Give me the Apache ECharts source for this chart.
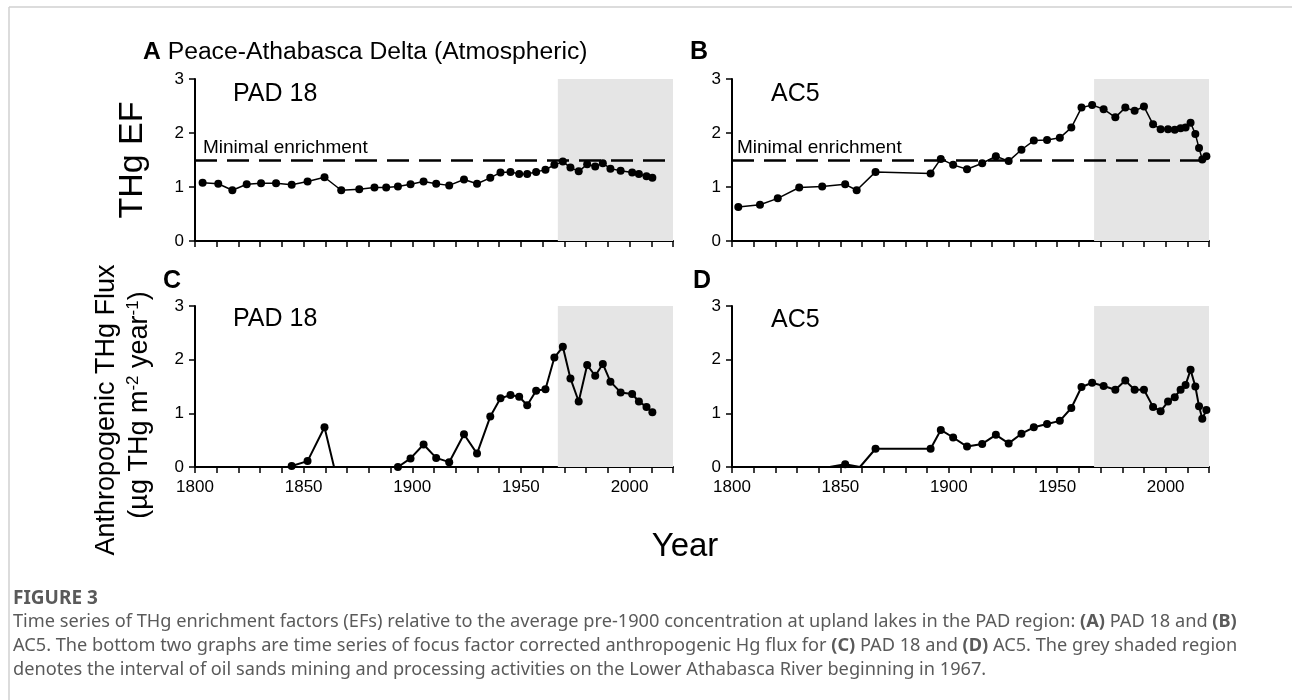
<!DOCTYPE html>
<html><head><meta charset="utf-8">
<script src="https://cdn.jsdelivr.net/npm/echarts@6/dist/echarts.min.js"></script>
<style>html,body{margin:0;padding:0;background:#fff}#c{width:1292px;height:700px}</style>
</head><body><div id="c"></div>
<script>
// ---- data ----
const xTicks = [1800, 1850, 1900, 1950, 2000];
const yTicks = [0, 1, 2, 3];
const miningStart = 1967;
const axisEnd = 2020;
const minimalEnrichment = 1.5;

const padYears = [1803.5,1810.7,1817.2,1823.8,1830.4,1837.3,1844.5,1851.8,1859.6,1867.3,1875.6,1882.6,1888.0,1893.4,1899.2,1905.2,1911.0,1917.0,1923.8,1929.8,1935.9,1940.6,1945.2,1949.2,1952.9,1957.0,1961.3,1965.4,1969.3,1972.8,1976.6,1980.5,1984.2,1987.7,1991.2,1995.9,2001.2,2004.3,2007.8,2010.5];
const padEF = [1.08,1.06,0.94,1.05,1.07,1.07,1.04,1.10,1.18,0.94,0.96,0.99,0.99,1.01,1.05,1.10,1.06,1.03,1.14,1.06,1.17,1.27,1.28,1.24,1.24,1.28,1.32,1.41,1.47,1.36,1.29,1.42,1.38,1.44,1.34,1.30,1.27,1.24,1.20,1.17];

const ac5Years = [1802.9,1812.9,1821.1,1831.0,1841.6,1852.2,1857.5,1866.2,1891.6,1896.3,1902.0,1908.4,1915.4,1921.7,1927.6,1933.5,1939.2,1945.3,1951.2,1956.5,1961.2,1966.1,1971.4,1976.8,1981.4,1985.7,1990.0,1994.2,1997.7,2001.1,2004.2,2006.9,2009.2,2011.5,2013.7,2015.4,2016.9,2018.8];
const ac5EF = [0.63,0.67,0.79,0.99,1.01,1.05,0.94,1.28,1.25,1.52,1.41,1.33,1.44,1.57,1.48,1.69,1.86,1.87,1.91,2.10,2.47,2.52,2.44,2.29,2.47,2.41,2.49,2.16,2.07,2.07,2.06,2.09,2.10,2.19,1.98,1.72,1.51,1.57];

// flux: points where the line meets the zero axis are listed separately (drawn without marker)
const padFluxYears = [1844.5,1851.8,1859.6,1864.0,1893.4,1899.2,1905.2,1911.0,1917.0,1923.8,1929.8,1935.9,1940.6,1945.2,1949.2,1952.9,1957.0,1961.3,1965.4,1969.3,1972.8,1976.6,1980.5,1984.2,1987.7,1991.2,1995.9,2001.2,2004.3,2007.8,2010.5];
const padFlux = [0.02,0.11,0.74,0,0,0.16,0.42,0.17,0.09,0.61,0.25,0.94,1.28,1.34,1.31,1.15,1.42,1.45,2.04,2.24,1.65,1.22,1.90,1.70,1.92,1.59,1.39,1.36,1.22,1.12,1.02];
const padFluxAxisCrossings = [1864.0];
const padFluxBreakAfter = [1864.0];

const ac5FluxYears = [1845.0,1852.2,1859.0,1866.2,1891.6,1896.3,1902.0,1908.4,1915.4,1921.7,1927.6,1933.5,1939.2,1945.3,1951.2,1956.5,1961.2,1966.1,1971.4,1976.8,1981.4,1985.7,1990.0,1994.2,1997.7,2001.1,2004.2,2006.9,2009.2,2011.5,2013.7,2015.4,2016.9,2018.8];
const ac5Flux = [0,0.05,0,0.34,0.34,0.69,0.55,0.38,0.43,0.60,0.44,0.62,0.74,0.80,0.86,1.10,1.49,1.57,1.51,1.44,1.61,1.44,1.44,1.12,1.04,1.22,1.30,1.44,1.53,1.81,1.50,1.13,0.90,1.06];
const ac5FluxAxisCrossings = [1845.0, 1859.0];
const ac5FluxBreakAfter = [];

// ---- build ----
const FONT = '"Liberation Sans", Arial, sans-serif';
function build(years, vals, noMarker, breaks) {
  const out = [];
  years.forEach((y, i) => {
    const item = { value: [y, vals[i]] };
    if (noMarker && noMarker.includes(y)) item.symbol = 'none';
    out.push(item);
    if (breaks && breaks.includes(y)) out.push({ value: [y, null] });
  });
  return out;
}

const grids = [
  { left: 195, top: 79, width: 478, height: 162 },
  { left: 732, top: 79, width: 477, height: 162 },
  { left: 195, top: 306, width: 478, height: 161 },
  { left: 732, top: 306, width: 477, height: 161 }
];

const xAxes = grids.map((g, i) => ({
  type: 'value', gridIndex: i, min: 1800, max: axisEnd, interval: 10,
  axisLine: { show: true, lineStyle: { color: '#000', width: 2 } },
  axisTick: { show: true, length: 6, lineStyle: { color: '#000', width: 1.5 } },
  splitLine: { show: false },
  axisLabel: {
    show: i >= 2, fontFamily: FONT, fontSize: 17, color: '#000', margin: 12,
    formatter: v => xTicks.includes(v) ? String(v) : ''
  }
}));
const yAxes = grids.map((g, i) => ({
  type: 'value', gridIndex: i, min: yTicks[0], max: yTicks[yTicks.length - 1], interval: 1,
  axisLine: { show: true, lineStyle: { color: '#000', width: 2 } },
  axisTick: { show: true, length: 6, lineStyle: { color: '#000', width: 1.5 } },
  splitLine: { show: false },
  axisLabel: { fontFamily: FONT, fontSize: 17, color: '#000', margin: 11 }
}));

const seriesData = [
  build(padYears, padEF),
  build(ac5Years, ac5EF),
  build(padFluxYears, padFlux, padFluxAxisCrossings, padFluxBreakAfter),
  build(ac5FluxYears, ac5Flux, ac5FluxAxisCrossings, ac5FluxBreakAfter)
];

const series = [];
grids.forEach((g, i) => {
  const bg = {
    type: 'line', xAxisIndex: i, yAxisIndex: i, data: [], z: 1, silent: true,
    markArea: { silent: true, itemStyle: { color: '#e5e5e5' }, data: [[{ xAxis: miningStart }, { xAxis: axisEnd }]] }
  };
  if (i < 2) {
    bg.markLine = {
      silent: true, symbol: 'none', label: { show: false },
      lineStyle: { color: '#000', type: [22, 10], width: 2.5 },
      data: [{ yAxis: minimalEnrichment }]
    };
  }
  series.push(bg);
  series.push({
    type: 'line', xAxisIndex: i, yAxisIndex: i, data: seriesData[i], z: 5,
    symbol: 'circle', symbolSize: 8, clip: false, connectNulls: false,
    itemStyle: { color: '#000' },
    lineStyle: { color: '#000', width: i >= 2 ? 2 : 1.5 }
  });
});

function txt(x, y, text, size, opts) {
  opts = opts || {};
  return {
    type: 'text', x, y, rotation: opts.rot || 0, silent: true,
    style: Object.assign({
      text, fill: opts.color || '#000', font: (opts.weight || 'normal') + ' ' + size + 'px ' + (opts.family || FONT),
      textAlign: opts.align || 'left', textVerticalAlign: opts.valign || 'middle'
    }, opts.extra || {})
  };
}

const CAP = '"Noto Sans", sans-serif';
const capColor = '#5a5a5a';
const capSize = 18.2;
const capRich = { b: { fontWeight: 'bold', fontFamily: CAP, fontSize: capSize, fill: capColor } };

const graphic = [
  { type: 'line', silent: true, shape: { x1: 9, y1: 7, x2: 1292, y2: 7 }, style: { stroke: '#d0d0d0', lineWidth: 1.5 } },
  { type: 'line', silent: true, shape: { x1: 9, y1: 7, x2: 9, y2: 700 }, style: { stroke: '#d0d0d0', lineWidth: 1.5 } },
  {
    type: 'text', x: 143, y: 52, silent: true,
    style: {
      text: '{b|A} Peace-Athabasca Delta (Atmospheric)', font: '24.7px ' + FONT, fill: '#000',
      textVerticalAlign: 'middle',
      rich: { b: { fontWeight: 'bold', fontSize: 24.7, fontFamily: FONT } }
    }
  },
  txt(690, 52, 'B', 25, { weight: 'bold' }),
  txt(163, 281, 'C', 25, { weight: 'bold' }),
  txt(693, 281, 'D', 25, { weight: 'bold' }),
  txt(233, 94, 'PAD 18', 25),
  txt(771, 94, 'AC5', 25),
  txt(233, 319, 'PAD 18', 25),
  txt(771, 320, 'AC5', 25),
  txt(203, 148, 'Minimal enrichment', 19),
  txt(737, 148, 'Minimal enrichment', 19),
  txt(133, 160, 'THg EF', 34, { align: 'center', rot: Math.PI / 2 }),
  txt(107, 410, 'Anthropogenic THg Flux', 27, { align: 'center', rot: Math.PI / 2 }),
  {
    type: 'text', x: 140, y: 405, rotation: Math.PI / 2, silent: true,
    style: {
      text: '(µg THg m{sup|-2} year{sup|-1})', font: '27px ' + FONT, fill: '#000',
      textAlign: 'center', textVerticalAlign: 'middle',
      rich: { sup: { fontSize: 17, fontFamily: FONT, verticalAlign: 'top', lineHeight: 30 } }
    }
  },
  txt(685, 547, 'Year', 33, { align: 'center' }),
  txt(13, 599, 'FIGURE 3', 19, { weight: 'bold', color: capColor, family: CAP }),
  {
    type: 'text', x: 13, y: 610, silent: true,
    style: {
      text: 'Time series of THg enrichment factors (EFs) relative to the average pre-1900 concentration at upland lakes in the PAD region: {b|(A)} PAD 18 and {b|(B)}\nAC5. The bottom two graphs are time series of focus factor corrected anthropogenic Hg flux for {b|(C)} PAD 18 and {b|(D)} AC5. The grey shaded region\ndenotes the interval of oil sands mining and processing activities on the Lower Athabasca River beginning in 1967.',
      font: capSize + 'px ' + CAP, fill: capColor, lineHeight: 24, textVerticalAlign: 'top', rich: capRich
    }
  }
];

const chart = echarts.init(document.getElementById('c'), null, { renderer: 'canvas' });
chart.setOption({
  animation: false,
  backgroundColor: '#fff',
  grid: grids,
  xAxis: xAxes,
  yAxis: yAxes,
  series,
  graphic
});
</script>
</body></html>
